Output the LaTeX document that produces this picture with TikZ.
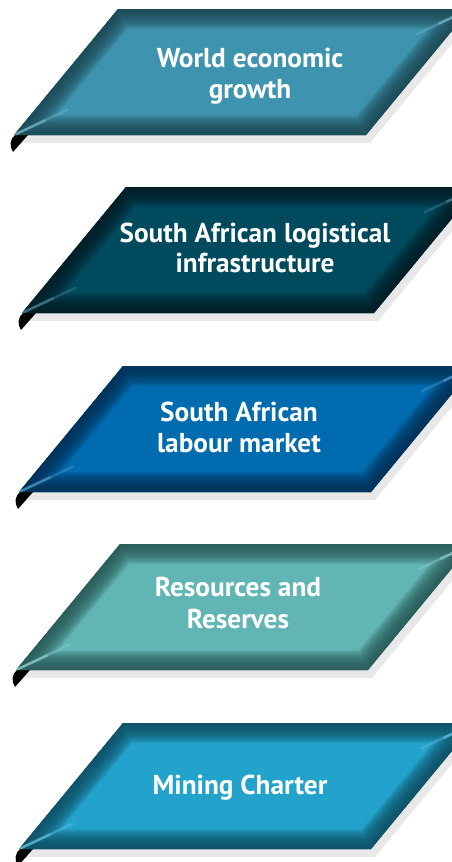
\documentclass[tikz,border=0pt]{standalone}
\usepackage{fontspec}
\setmainfont{PT Sans}
\definecolor{shadowgrey}{RGB}{232,232,232}
\definecolor{mainA}{RGB}{62,148,174}\definecolor{darkA}{RGB}{30,72,84}
\definecolor{mainB}{RGB}{0,74,94}\definecolor{darkB}{RGB}{0,30,38}
\definecolor{mainC}{RGB}{0,107,175}\definecolor{darkC}{RGB}{0,48,84}
\definecolor{mainD}{RGB}{97,182,180}\definecolor{darkD}{RGB}{40,88,86}
\definecolor{mainE}{RGB}{35,163,203}\definecolor{darkE}{RGB}{16,78,98}
\tikzset{
  lbl/.style={text=white, font=\bfseries\fontsize{27.3}{31}\selectfont, anchor=base, inner sep=0pt},
  glow/.style={line width=#1, opacity=0.1, line join=miter},
}
% #1 = top-left x, #2 = top y, #3 = main colour, #4 = dark edge colour
\newcommand\plgbox[4]{%
  \fill[shadowgrey] ({#1+4},{#2+8}) -- ({#1+356},{#2+8}) -- ({#1+252},{#2+134}) -- ({#1-100},{#2+134}) -- cycle;
  \fill[black] ({#1-103},{#2+126}) -- ({#1-90},{#2+126}) -- ({#1-105},{#2+143})
     .. controls ({#1-109},{#2+137}) and ({#1-108},{#2+130}) .. cycle;
  \begin{scope}
    \clip (#1,#2) -- ({#1+352},#2) -- ({#1+248},{#2+126}) -- ({#1-104},{#2+126}) -- cycle;
    \fill[#3] (#1,#2) -- ({#1+352},#2) -- ({#1+248},{#2+126}) -- ({#1-104},{#2+126}) -- cycle;
    \foreach \w in {2,4,...,40}
      \draw[#4, glow=\w pt] (#1,#2) -- ({#1+352},#2) -- ({#1+248},{#2+126}) -- ({#1-104},{#2+126}) -- cycle;
    \draw[#3!70!white, line width=2.5pt, opacity=0.8] ({#1+352},#2) -- ({#1+352-0.905*35},{#2+0.426*35});
    \draw[#3!70!white, line width=2.5pt, opacity=0.4] ({#1+352-0.905*35},{#2+0.426*35}) -- ({#1+352-0.905*60},{#2+0.426*60});
    \draw[#3!70!white, line width=2.5pt, opacity=0.8] ({#1-104},{#2+126}) -- ({#1-104+0.905*35},{#2+126-0.426*35});
    \draw[#3!70!white, line width=2.5pt, opacity=0.4] ({#1-104+0.905*35},{#2+126-0.426*35}) -- ({#1-104+0.905*60},{#2+126-0.426*60});
  \end{scope}
}
\begin{document}
\begin{tikzpicture}[x=1pt,y=-1pt]
\useasboundingbox (0,0) rectangle (452,862);
\clip (0,0) rectangle (452,862);
\plgbox{118}{9}{mainA}{darkA}
\plgbox{126}{187}{mainB}{darkB}
\plgbox{123}{366}{mainC}{darkC}
\plgbox{120}{544}{mainD}{darkD}
\plgbox{123}{723}{mainE}{darkE}
\node[lbl] (t1a) at (250,67) {World economic};
\node[lbl] (t1b) at (250,98) {growth};
\node[lbl] (t2a) at (255,242) {South African logistical};
\node[lbl] (t2b) at (255,272) {infrastructure};
\node[lbl] (t3a) at (239,421) {South African};
\node[lbl] (t3b) at (239,452) {labour market};
\node[lbl] (t4a) at (238,596) {Resources and};
\node[lbl] (t4b) at (238,628) {Reserves};
\node[lbl] (t5a) at (240,794) {Mining Charter};
\end{tikzpicture}
\end{document}
